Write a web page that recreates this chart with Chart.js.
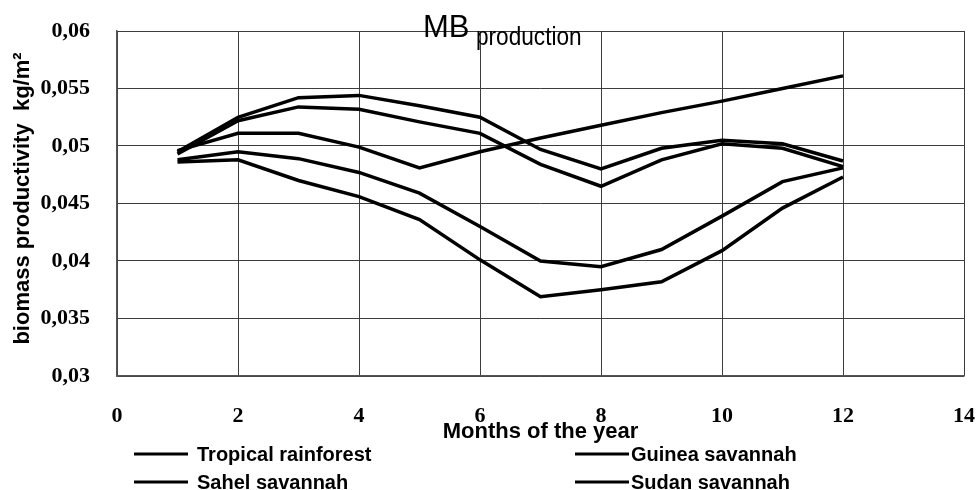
<!DOCTYPE html>
<html>
<head>
<meta charset="utf-8">
<script src="https://cdn.jsdelivr.net/npm/chart.js@4.4.0/dist/chart.umd.min.js"></script>
<style>
  html, body { margin: 0; padding: 0; background: #fff; }
  #wrap { width: 977px; height: 490px; }
</style>
</head>
<body>
<div id="wrap"><canvas id="mbChart" width="977" height="490"></canvas></div>
<script>
const months = [1, 2, 3, 4, 5, 6, 7, 8, 9, 10, 11, 12];
const xTicks = [0, 2, 4, 6, 8, 10, 12, 14];
const yTicks = [0.03, 0.035, 0.04, 0.045, 0.05, 0.055, 0.06];

const tropicalRainforest = [0.0495, 0.0525, 0.0542, 0.0544, 0.0535, 0.0525, 0.0497, 0.0480, 0.0498, 0.0505, 0.0502, 0.0487];
const guineaSavannah     = [0.0493, 0.0522, 0.0534, 0.0532, 0.0521, 0.0511, 0.0484, 0.0465, 0.0488, 0.0502, 0.0498, 0.0482];
const sahelSavannah      = [0.0488, 0.0495, 0.0489, 0.0477, 0.0459, 0.0430, 0.0400, 0.0395, 0.0410, 0.0439, 0.0469, 0.0481];
const sudanSavannah      = [0.0486, 0.0488, 0.0470, 0.0456, 0.0436, 0.0401, 0.0369, 0.0375, 0.0382, 0.0409, 0.0446, 0.0473];
const risingSeries       = [0.0496, 0.0511, 0.0511, 0.0499, 0.0481, 0.0495, 0.0507, 0.0518, 0.0529, 0.0539, 0.0550, 0.0561];

const legendNames = ['Tropical rainforest', 'Guinea savannah', 'Sahel savannah', 'Sudan savannah'];

function toPoints(values) {
    return months.map((m, i) => ({ x: m, y: values[i] }));
}

function makeSet(label, values) {
    return {
        label: label,
        data: toPoints(values),
        borderColor: '#000',
        borderWidth: 3.5,
        pointRadius: 0,
        tension: 0,
        fill: false
    };
}

const comma = v => String(Math.round(v * 1000) / 1000).replace('.', ',');

function label(ctx, text, x, y, font, align, sx) {
    ctx.save();
    ctx.translate(x, y);
    ctx.scale(sx || 1, 1);
    ctx.font = font;
    ctx.textAlign = align;
    ctx.fillText(text, 0, 0);
    ctx.restore();
}

// titles and two-column legend drawn by hand
const extraText = {
    id: 'extraText',
    afterDraw(chart) {
        const ctx = chart.ctx;
        const area = chart.chartArea;
        ctx.save();
        ctx.fillStyle = '#000';
        ctx.textBaseline = 'alphabetic';

        label(ctx, 'MB', 423, 37, '31px "Liberation Sans"', 'left');
        label(ctx, 'production', 476, 45, '26px "Liberation Sans"', 'left', 0.87);

        label(ctx, 'Months of the year', (area.left + area.right) / 2, 438, 'bold 22px "Liberation Sans"', 'center');

        ctx.save();
        ctx.translate(29, (area.top + area.bottom) / 2 - 5);
        ctx.rotate(-Math.PI / 2);
        label(ctx, 'biomass productivity  kg/m\u00B2', 0, 0, 'bold 22px "Liberation Sans"', 'center');
        ctx.restore();

        const spots = [[134, 454], [575, 454], [134, 482], [575, 482]];
        ctx.textBaseline = 'middle';
        legendNames.forEach((name, i) => {
            const [lx, ly] = spots[i];
            ctx.fillRect(lx, ly - 1.5, 54, 3);
            label(ctx, name, lx + (i % 2 ? 56 : 63), ly + 1, 'bold 20px "Liberation Sans"', 'left');
        });
        ctx.restore();
    }
};

new Chart(document.getElementById('mbChart'), {
    type: 'line',
    data: {
        datasets: [
            makeSet(legendNames[0], tropicalRainforest),
            makeSet(legendNames[1], guineaSavannah),
            makeSet(legendNames[2], sahelSavannah),
            makeSet(legendNames[3], sudanSavannah),
            makeSet('', risingSeries)
        ]
    },
    options: {
        responsive: false,
        animation: false,
        layout: { padding: { top: 31, right: 13, left: 0, bottom: 0 } },
        plugins: {
            legend: { display: false },
            title: { display: false },
            tooltip: { enabled: false }
        },
        scales: {
            x: {
                type: 'linear',
                min: 0,
                max: 14,
                afterBuildTicks: s => { s.ticks = xTicks.map(v => ({ value: v })); },
                afterFit: s => { s.height = 114; s.paddingLeft = 0; s.paddingRight = 0; },
                grid: { color: '#3c3c3c', lineWidth: 1, drawTicks: false },
                border: { color: '#555', width: 1.5 },
                ticks: {
                    padding: 27,
                    color: '#000',
                    font: { family: '"Liberation Serif"', size: 22, weight: 'bold' }
                }
            },
            y: {
                min: 0.03,
                max: 0.06,
                afterBuildTicks: s => { s.ticks = yTicks.map(v => ({ value: v })); },
                afterFit: s => { s.width = 117; s.paddingTop = 0; s.paddingBottom = 0; },
                grid: { color: '#3c3c3c', lineWidth: 1, drawTicks: false },
                border: { color: '#555', width: 1.5 },
                ticks: {
                    padding: 27,
                    color: '#000',
                    callback: v => comma(v),
                    font: { family: '"Liberation Serif"', size: 22, weight: 'bold' }
                }
            }
        }
    },
    plugins: [extraText]
});
</script>
</body>
</html>
